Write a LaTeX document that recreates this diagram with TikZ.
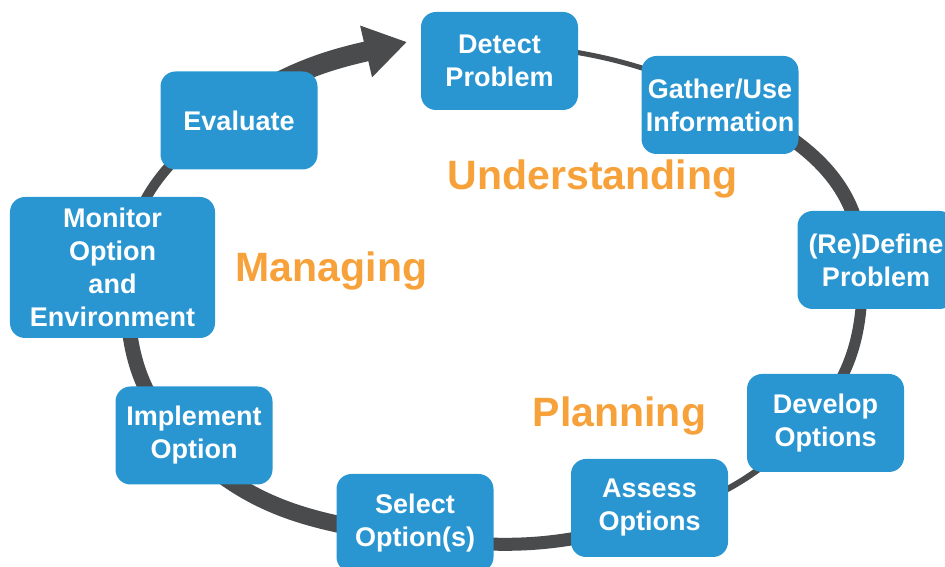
\documentclass[tikz,border=0pt]{standalone}
\usepackage{fontspec}
\setmainfont{Liberation Sans}
\usetikzlibrary{
  arrows.meta,
  backgrounds
}
\usepackage{xcolor}
\definecolor{boxBlue}{rgb}{0.16,0.588,0.82}
\definecolor{ringGray}{rgb}{0.29,0.294,0.302}
\definecolor{phaseOrange}{rgb}{0.969,0.631,0.227}
\tikzset{
  stage/.style={
    rectangle,
    rounded corners=15bp,
    fill=boxBlue,
    text=white,
    font=\bfseries\fontsize{27bp}{33bp}\selectfont,
    align=center,
    inner sep=0pt,
    minimum width=157bp,
    minimum height=98bp
  }
}
\tikzset{
  phase/.style={
    anchor=base,
    text=phaseOrange,
    font=\bfseries\fontsize{41bp}{41bp}\selectfont
  }
}
\tikzset{
  ring/.style={
    draw=ringGray,
    line cap=butt
  }
}
\begin{document}
\begin{tikzpicture}[x=1bp, y=1bp, >={Triangle[length=42bp,width=50bp]}]
    \useasboundingbox (0,0) rectangle (945,567);
    \node[stage] (detect) at (499.5,506) {Detect\\Problem};
    \node[stage] (gather) at (720,462) {Gather/Use\\Information};
    \node[stage] (redefine) at (876,307) {(Re)Define\\Problem};
    \node[stage] (develop) at (825.5,144) {Develop\\Options};
    \node[stage] (assess) at (649.5,59) {Assess\\Options};
    \node[stage] (select) at (415,44) {Select\\Option(s)};
    \node[stage] (implement) at (194,131.5) {Implement\\Option};
    \node[stage, minimum width=205bp, minimum height=141bp] (monitor)
      at (112.5,299.5) {Monitor\\Option\\and\\Environment};
    \node[stage] (evaluate) at (239,446.5) {Evaluate};
    \coordinate (tip) at (407,525);
    \node[phase] (understanding) at (592.5,377) {Understanding};
    \node[phase] (planning) at (619.5,140) {Planning};
    \node[phase] (managing) at (331.5,285) {Managing};
    \begin{pgfonlayer}{background}
    \draw[ring, line width=5bp]
    ([shift={(0,18)}]detect.center) to[out=-5, in=155]
    ([shift={(0,6)}]gather.center);
    \draw[ring, line width=14bp]
    ([shift={(0,6)}]gather.center) to[out=-25, in=92]
    ([shift={(-14,0)}]redefine.center);
    \draw[ring, line width=11bp]
    ([shift={(-14,0)}]redefine.center) to[out=-88, in=47]
    ([shift={(-17,-1)}]develop.center);
    \draw[ring, line width=6bp]
    ([shift={(-17,-1)}]develop.center) to[out=-133, in=17]
    ([shift={(0,-12)}]assess.center);
    \draw[ring, line width=13bp]
    ([shift={(0,-12)}]assess.center) to[out=-163, in=-8]
    ([shift={(0,-14)}]select.center);
    \draw[ring, line width=17bp]
    ([shift={(0,-14)}]select.center) to[out=172, in=-47]
    ([shift={(-14,-2)}]implement.center);
    \draw[ring, line width=15bp]
    ([shift={(-14,-2)}]implement.center) to[out=133, in=-92]
    ([shift={(15,0)}]monitor.center);
    \draw[ring, line width=10bp]
    ([shift={(15,0)}]monitor.center) to[out=88, in=220]
    ([shift={(-14,6)}]evaluate.center);
    \draw[ring, line width=20bp, ->]
    ([shift={(-14,6)}]evaluate.center) to[out=35, in=193] (tip);
    \end{pgfonlayer}
  \end{tikzpicture}
\end{document}
